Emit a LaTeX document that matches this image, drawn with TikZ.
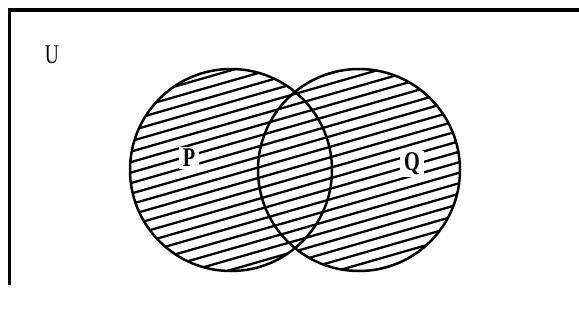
\documentclass[tikz,border=0pt]{standalone}
\usepackage{fontspec}
\usepackage{graphicx}
\setmainfont{Liberation Serif}
\begin{document}
\begin{tikzpicture}[x=1pt,y=-1pt,
  setcircle/.style={circle, draw=black, line width=2.5pt, minimum size=202pt, inner sep=0pt},
  hatchline/.style={line width=2.3pt, black},
  setlabel/.style={fill=white, inner xsep=4pt, inner ysep=2pt, font=\fontsize{27}{27}\selectfont\bfseries},
  frameline/.style={line width=3.5pt, black, line join=miter}]
\useasboundingbox (0,0) rectangle (579,324);
% frame
\coordinate (fb) at (9.7,285);
\coordinate (fc) at (9.7,10);
\coordinate (fr) at (600,10);
\draw[frameline] (fb) -- (fc) -- (fr);
% hatching clipped to the union of both sets
\begin{scope}
  \clip (231,170) circle (101) (359,170) circle (101);
  \foreach \i in {-20,...,45} {
    \draw[hatchline] (100,{\i*10.5+3}) -- (500,{\i*10.5-112});
  }
\end{scope}
% set outlines
\node[setcircle] (P) at (231,170) {};
\node[setcircle] (Q) at (359,170) {};
% labels
\node[setlabel] (labP) at (189,158) {\scalebox{0.75}[1]{P}};
\node[setlabel] (labQ) at (412,164) {\scalebox{0.75}[1]{Q}};
\node[font=\fontsize{27}{27}\selectfont] (labU) at (52,55) {\scalebox{0.72}[1]{U}};
\end{tikzpicture}
\end{document}
